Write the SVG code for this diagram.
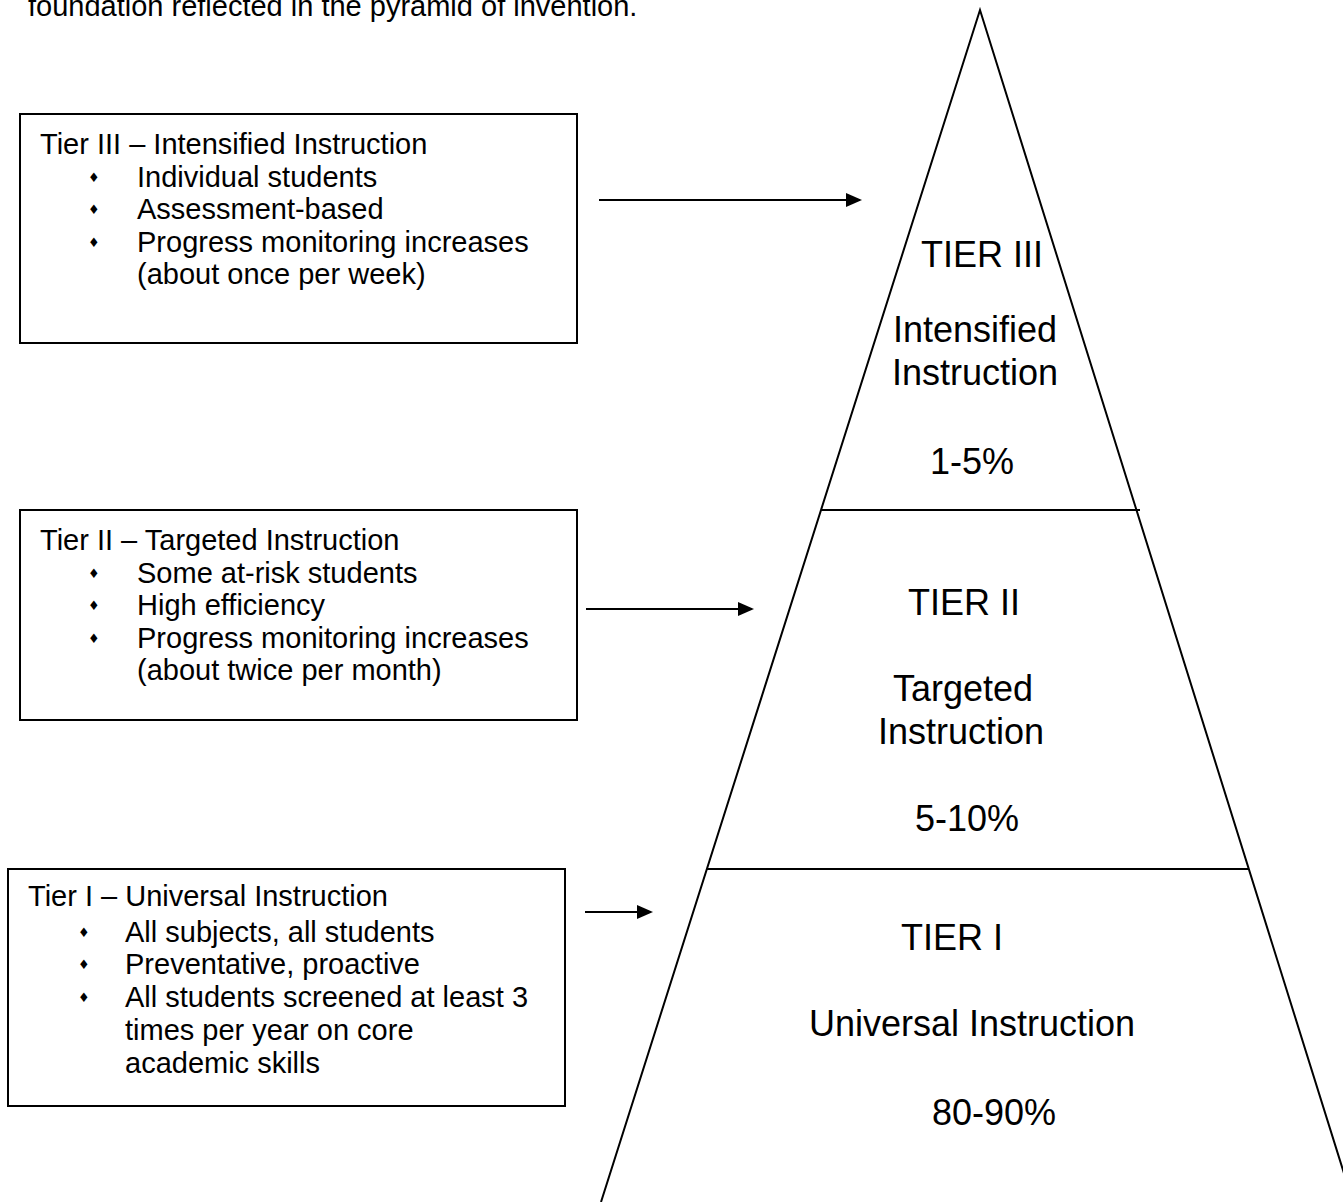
<svg xmlns="http://www.w3.org/2000/svg" width="1343" height="1202" viewBox="0 0 1343 1202">
<style>
text{font-family:"Liberation Sans",Arial,sans-serif;fill:#000}
.t{font-size:29px}
.p{font-size:36px;text-anchor:middle}
.b{font-family:"DejaVu Sans",sans-serif;font-size:13px}
.box{fill:#fff;stroke:#000;stroke-width:2}
.ln{stroke:#000;stroke-width:2;fill:none}
</style>
<defs>
<marker id="ah" markerWidth="8" markerHeight="7" refX="7" refY="3.5" orient="auto" markerUnits="strokeWidth">
<path d="M0,0 L8,3.5 L0,7 z" fill="#000"/>
</marker>
</defs>
<rect width="1343" height="1202" fill="#fff"/>
<text class="t" x="28" y="16">foundation reflected in the pyramid of invention.</text>

<g id="pyramid">
<path class="ln" d="M601,1202 L980,10 L1353,1202"/>
<line class="ln" x1="821" y1="510" x2="1140" y2="510"/>
<line class="ln" x1="707" y1="869" x2="1248" y2="869"/>
</g>

<g id="tier3-pyr">
<text class="p" x="982" y="267">TIER III</text>
<text class="p" x="975" y="342">Intensified</text>
<text class="p" x="975" y="385">Instruction</text>
<text class="p" x="972" y="474">1-5%</text>
</g>
<g id="tier2-pyr">
<text class="p" x="964" y="615">TIER II</text>
<text class="p" x="963" y="701">Targeted</text>
<text class="p" x="961" y="744">Instruction</text>
<text class="p" x="967" y="831">5-10%</text>
</g>
<g id="tier1-pyr">
<text class="p" x="952" y="950">TIER I</text>
<text class="p" x="972" y="1036">Universal Instruction</text>
<text class="p" x="994" y="1125">80-90%</text>
</g>

<g id="box3">
<rect class="box" x="20" y="114" width="557" height="229"/>
<text class="t" x="40" y="154">Tier III – Intensified Instruction</text>
<text class="b" x="88" y="182">♦</text><text class="t" x="137" y="187">Individual students</text>
<text class="b" x="88" y="214">♦</text><text class="t" x="137" y="219">Assessment-based</text>
<text class="b" x="88" y="247">♦</text><text class="t" x="137" y="252">Progress monitoring increases</text>
<text class="t" x="137" y="284">(about once per week)</text>
</g>

<g id="box2">
<rect class="box" x="20" y="510" width="557" height="210"/>
<text class="t" x="40" y="550">Tier II – Targeted Instruction</text>
<text class="b" x="88" y="578">♦</text><text class="t" x="137" y="583">Some at-risk students</text>
<text class="b" x="88" y="610">♦</text><text class="t" x="137" y="615">High efficiency</text>
<text class="b" x="88" y="643">♦</text><text class="t" x="137" y="648">Progress monitoring increases</text>
<text class="t" x="137" y="680">(about twice per month)</text>
</g>

<g id="box1">
<rect class="box" x="8" y="869" width="557" height="237"/>
<text class="t" x="28" y="906">Tier I – Universal Instruction</text>
<text class="b" x="78" y="937">♦</text><text class="t" x="125" y="942">All subjects, all students</text>
<text class="b" x="78" y="969">♦</text><text class="t" x="125" y="974">Preventative, proactive</text>
<text class="b" x="78" y="1002">♦</text><text class="t" x="125" y="1007">All students screened at least 3</text>
<text class="t" x="125" y="1040">times per year on core</text>
<text class="t" x="125" y="1073">academic skills</text>
</g>

<g id="connectors">
<line class="ln" x1="599" y1="200" x2="860" y2="200" marker-end="url(#ah)"/>
<line class="ln" x1="586" y1="609" x2="752" y2="609" marker-end="url(#ah)"/>
<line class="ln" x1="585" y1="912" x2="651" y2="912" marker-end="url(#ah)"/>
</g>
</svg>
